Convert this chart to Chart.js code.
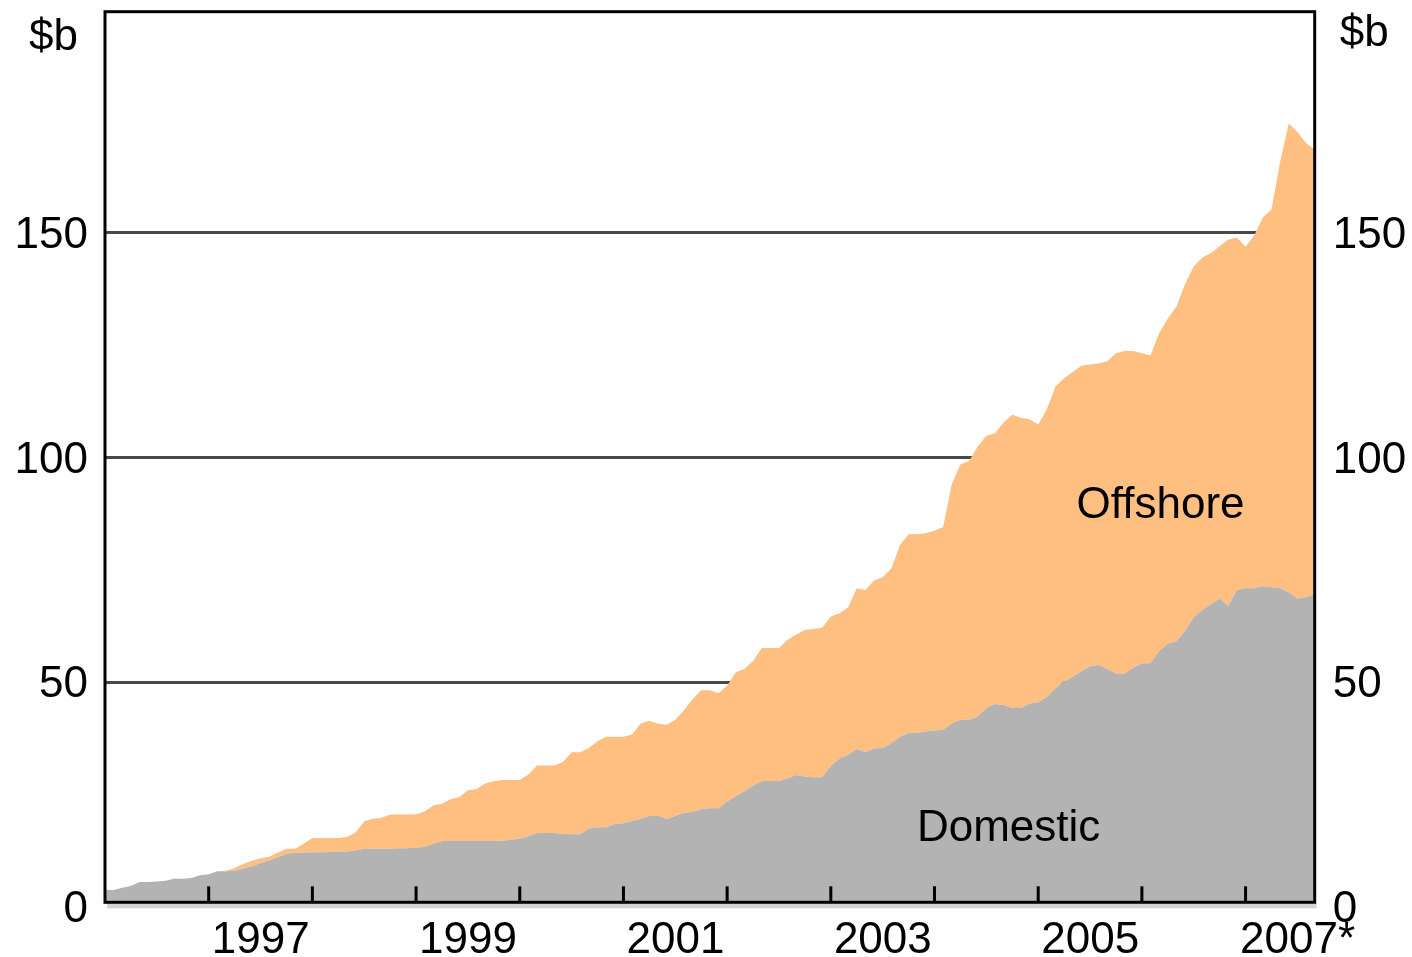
<!DOCTYPE html>
<html><head><meta charset="utf-8">
<script src="https://cdn.jsdelivr.net/npm/chart.js@4.4.1/dist/chart.umd.min.js"></script>
<style>html,body{margin:0;padding:0;background:#fff;}canvas{display:block;}</style>
</head><body>
<canvas id="c" width="1412" height="957"></canvas>
<script>
// Monthly observations starting January 1996
const startYear = 1996;
const domestic = [
 3.7,3.7,4.2,4.6,5.5,5.5,5.6,5.8,6.2,6.2,6.4,7.0,
 7.2,7.9,7.9,8.0,8.5,9.0,9.7,10.3,11.0,11.8,12.0,12.0,
 12.1,12.1,12.2,12.2,12.3,12.5,12.9,12.9,12.9,12.9,13.0,13.0,
 13.2,13.3,14.0,14.6,14.6,14.6,14.6,14.6,14.6,14.6,14.7,14.9,
 15.2,15.7,16.4,16.4,16.4,16.2,16.1,16.1,17.4,17.7,17.7,18.4,
 18.6,19.1,19.5,20.2,20.3,19.5,20.2,20.9,21.1,21.7,21.9,21.9,
 23.4,24.6,25.7,26.9,28.0,28.0,28.0,28.6,29.3,29.0,28.8,28.8,
 31.3,33.0,33.8,35.1,34.4,35.2,35.3,36.4,37.8,38.7,38.7,39.0,
 39.2,39.4,40.8,41.6,41.6,42.3,44.2,45.1,44.9,44.2,44.2,45.2,
 45.5,46.7,48.6,50.2,51.2,52.4,53.5,53.8,52.9,51.9,51.9,53.2,
 54.2,54.2,56.9,58.6,59.1,61.4,64.4,66.1,67.4,68.6,66.9,70.5,
 70.9,70.9,71.3,71.1,70.9,70.0,68.6,68.9,69.6
];
const offshore = [
 0,0,0,0,0,0,0,0,0,0,0,0,
 0,0,0.1,0.6,1.0,1.2,1.1,0.8,1.0,1.1,0.9,2.0,
 3.2,3.2,3.1,3.1,3.2,4.0,6.1,6.7,6.9,7.6,7.5,7.5,
 7.4,7.9,8.5,8.3,9.3,9.8,11.3,11.6,12.8,13.3,13.5,13.3,
 13.0,13.7,15.0,15.0,15.0,16.0,18.3,18.3,17.9,19.1,20.1,19.4,
 19.2,19.2,21.3,21.2,20.4,21.0,21.4,22.8,25.1,26.5,26.3,25.6,
 25.8,27.6,27.2,27.8,29.6,29.6,29.6,30.8,31.3,32.6,33.0,33.3,
 33.3,32.3,32.8,35.8,36.1,37.4,38.0,38.9,42.7,44.2,44.2,44.1,
 44.5,45.1,53.3,56.8,57.6,60.1,60.6,60.3,62.9,65.3,64.6,63.3,
 61.8,64.0,67.2,67.5,67.8,68.0,67.2,67.1,68.5,71.3,71.8,70.5,
 69.0,68.5,70.8,72.3,74.5,77.2,78.1,78.4,78.1,78.4,81.6,78.4,
 76.0,78.5,82.1,84.1,94.9,104.3,103.8,101.0,99.0
];
const seriesNames = ['Domestic', 'Offshore'];
const yearTicks = [1996,1997,1998,1999,2000,2001,2002,2003,2004,2005,2006,2007];
const yearLabels = {1997:'1997',1999:'1999',2001:'2001',2003:'2003',2005:'2005',2007:'2007*'};
const yTicks = [0, 50, 100, 150];
const unitLabel = '$b';

const FONT = '"Liberation Sans", Arial, sans-serif';
const months = domestic.map((_, i) => startYear + i / 12);
const toPts = arr => arr.map((v, i) => ({x: months[i], y: v}));

// in-plot series labels (anchored in data units)
const seriesLabelPos = [
  {text: seriesNames[1], x: 2005.37, y: 86.5},
  {text: seriesNames[0], x: 2003.83, y: 14.6}
];

const decor = {
  id: 'decor',
  afterDatasetsDraw(chart) {
    const {ctx, chartArea: a, scales: {x, y}} = chart;
    ctx.save();
    // soft shadow under the frame
    ctx.fillStyle = '#d4d4d4';
    ctx.fillRect(a.left + 2, a.bottom + 1.5, a.right - a.left, 4.5);
    // inward tick marks at year boundaries
    ctx.fillStyle = '#000';
    yearTicks.forEach(v => {
      if (v <= x.min || v >= x.max) return;
      const px = x.getPixelForValue(v);
      ctx.fillRect(px - 1.5, a.bottom - 16, 3, 16);
    });
    // frame
    ctx.strokeStyle = '#000';
    ctx.lineWidth = 3;
    ctx.strokeRect(a.left, a.top, a.right - a.left, a.bottom - a.top);
    // series labels
    ctx.font = '44px ' + FONT;
    ctx.fillStyle = '#000';
    ctx.textBaseline = 'alphabetic';
    ctx.textAlign = 'left';
    seriesLabelPos.forEach(l => ctx.fillText(l.text, x.getPixelForValue(l.x), y.getPixelForValue(l.y)));
    // unit labels
    ctx.textAlign = 'right';
    ctx.fillText(unitLabel, a.left - 27, a.top + 38);
    ctx.textAlign = 'left';
    ctx.fillText(unitLabel, a.right + 25, a.top + 34);
    ctx.restore();
  }
};

const yCommon = {
  min: 0.98, max: 199.2,
  afterBuildTicks: s => { s.ticks = yTicks.map(v => ({value: v})); },
  border: {display: false},
  ticks: {font: {family: FONT, size: 44}, color: '#000', labelOffset: 3}
};

new Chart(document.getElementById('c'), {
  type: 'line',
  data: {
    datasets: [
      {label: seriesNames[0], data: toPts(domestic), backgroundColor: 'rgb(179,179,179)',
       borderWidth: 0, pointRadius: 0, fill: 'origin', tension: 0},
      {label: seriesNames[1], data: toPts(offshore), backgroundColor: 'rgb(254,191,128)',
       borderWidth: 0, pointRadius: 0, fill: '-1', tension: 0}
    ]
  },
  options: {
    responsive: false, animation: false, devicePixelRatio: 1,
    layout: {padding: {top: 11.7, left: 0, right: 0, bottom: 0}},
    plugins: {legend: {display: false}, tooltip: {enabled: false}},
    scales: {
      x: {
        type: 'linear', min: startYear, max: startYear + (domestic.length - 1) / 12,
        afterBuildTicks: s => { s.ticks = yearTicks.map(v => ({value: v})); },
        afterFit: s => { s.height = 54.7; s.paddingLeft = 0; s.paddingRight = 0; },
        grid: {display: false, drawTicks: false},
        border: {display: false},
        ticks: {
          autoSkip: false, maxRotation: 0, padding: 12, labelOffset: 52,
          font: {family: FONT, size: 44}, color: '#000',
          callback: v => yearLabels[v] || ''
        }
      },
      y: Object.assign({}, yCommon, {
        stacked: true, position: 'left',
        afterFit: s => { s.width = 105; s.paddingTop = 0; s.paddingBottom = 0; },
        grid: {color: c => (c.tick && c.tick.value > 0) ? '#484848' : 'rgba(0,0,0,0)', lineWidth: 3, drawTicks: false},
        ticks: Object.assign({}, yCommon.ticks, {padding: 17})
      }),
      y2: Object.assign({}, yCommon, {
        position: 'right',
        afterFit: s => { s.width = 97.3; s.paddingTop = 0; s.paddingBottom = 0; },
        grid: {display: false, drawTicks: false},
        ticks: Object.assign({}, yCommon.ticks, {padding: 18})
      })
    }
  },
  plugins: [decor]
});
</script>
</body></html>
